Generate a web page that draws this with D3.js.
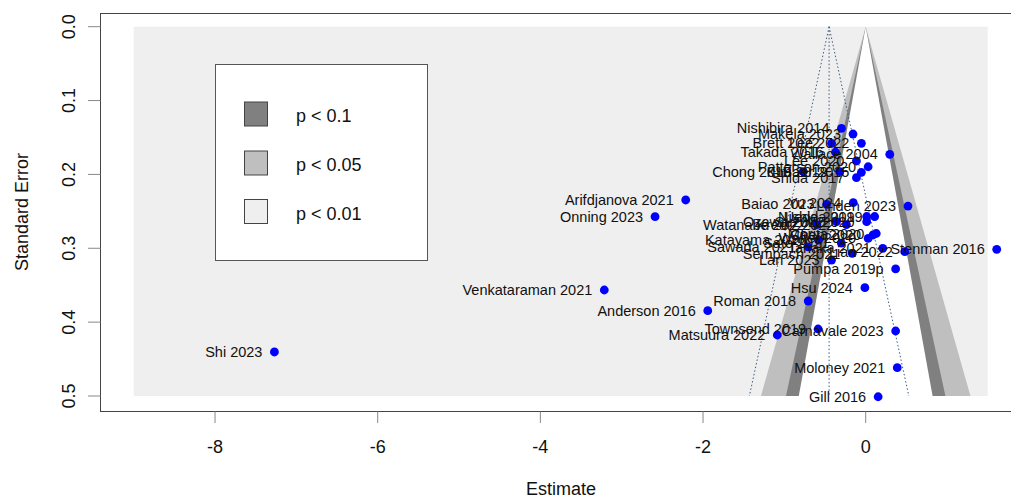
<!DOCTYPE html>
<html><head><meta charset="utf-8">
<script src="https://cdn.jsdelivr.net/npm/d3@7"></script>
<style>
html,body{margin:0;padding:0;background:#fff;}
svg text{font-family:"Liberation Sans",Arial,sans-serif;}
</style>
</head><body>
<svg id="chart" width="1011" height="499"></svg>
<script>
// ---- data ----
const studies = [
 "Nishibira 2014","Makela 2023","Brett 2022","Lee 2022","Takada 2016","Wallace 2004",
 "Lee 2020","Patterson 2020","Chong 2019","Kim 2019","Baer 2015","Shida 2017",
 "Arifdjanova 2021","Onning 2023","Baiao 2023","Yu 2024","Linden 2023",
 "Nishida 2019","Ueda 2019","Ozawa 2022","Kreutz 2022","Watanabe 2022","Suzuki 2020",
 "Morita 2020","Chen 2020","Walter 2020","Katayama 2020","Sato 2021","Sawada 2021",
 "Tanaka 2021","Sempach 2021","Lian 2022","Stenman 2016","Lan 2023","Pumpa 2019p",
 "Hsu 2024","Venkataraman 2021","Roman 2018","Anderson 2016","Townsend 2019",
 "Carnavale 2023","Matsuura 2022","Shi 2023","Moloney 2021","Gill 2016"
];
const estimates = [
 -0.298,-0.156,-0.42,-0.053,-0.371,0.296,
 -0.114,0.03,-0.768,-0.319,-0.053,-0.114,
 -2.213,-2.590,-0.48,-0.153,0.52,
 0.11,0.012,-0.36,-0.237,-0.60,0.012,
 0.13,0.09,0.03,-0.58,-0.30,-0.71,
 0.21,-0.165,0.48,1.611,-0.42,0.368,
 -0.01,-3.214,-0.707,-1.942,-0.585,
 0.368,-1.087,-7.27,0.388,0.153
];
const ses = [
 0.1376,0.1453,0.1579,0.1579,0.170,0.1728,
 0.1818,0.1896,0.1963,0.1963,0.1971,0.2044,
 0.2346,0.2572,0.2405,0.2383,0.2428,
 0.257,0.257,0.264,0.268,0.268,0.264,
 0.280,0.282,0.2866,0.289,0.293,0.298,
 0.300,0.307,0.3046,0.3014,0.316,0.328,
 0.3534,0.3565,0.3714,0.3845,0.4093,
 0.412,0.4174,0.4404,0.4617,0.501
];
const xTicks = [-8,-6,-4,-2,0];
const yTicks = [0,0.1,0.2,0.3,0.4,0.5];
const contourZ = [2.576, 1.96, 1.645];
const contourFill = ["#bfbfbf","#808080","#ffffff"];
const legendLabels = ["p < 0.1","p < 0.05","p < 0.01"];
const legendFill = ["#808080","#bfbfbf","#efefef"];
const pooled = -0.45;
const refline = 0;
const seMax = 0.5;

// ---- scales ----
const svg = d3.select("#chart");
const x = d3.scaleLinear().domain([-9,1.5]).range([133.7,987.7]);
const y = d3.scaleLinear().domain([0,0.5]).range([26.7,396]);

// background region
svg.append("rect").attr("x",x(-9)).attr("y",y(0)).attr("width",x(1.5)-x(-9))
  .attr("height",y(0.5)-y(0)).attr("fill","#efefef");

// contour polygons
contourZ.forEach((z,i)=>{
  const pts = [[refline,0],[refline - z*seMax, seMax],[refline + z*seMax, seMax]];
  svg.append("path")
    .attr("d", d3.line().x(d=>x(d[0])).y(d=>y(d[1]))(pts)+"Z")
    .attr("fill",contourFill[i]).attr("stroke","none");
});

// dotted pseudo-CI funnel around pooled estimate
const dotted = {stroke:"#3d5a80","stroke-width":1,"stroke-dasharray":"1.5,2.2",fill:"none"};
function dl(a,b){const p=svg.append("line").attr("x1",x(a[0])).attr("y1",y(a[1])).attr("x2",x(b[0])).attr("y2",y(b[1]));
  Object.entries(dotted).forEach(([k,v])=>p.attr(k,v));}
dl([pooled,0],[pooled,seMax]);
dl([pooled,0],[pooled-1.96*seMax,seMax]);
dl([pooled,0],[pooled+1.96*seMax,seMax]);

// box
svg.append("rect").attr("x",100.5).attr("y",13.5).attr("width",922).attr("height",398)
  .attr("fill","none").attr("stroke","#444").attr("stroke-width",1);

// x axis ticks
const gx = svg.append("g");
xTicks.forEach(t=>{
  gx.append("line").attr("x1",x(t)).attr("x2",x(t)).attr("y1",411.5).attr("y2",423)
    .attr("stroke","#888").attr("stroke-width",1);
  gx.append("text").attr("x",x(t)).attr("y",452.5).attr("text-anchor","middle")
    .attr("font-size",18).attr("fill","#111").text(d3.format("d")(t).replace("−","-"));
});
// y axis ticks
const gy = svg.append("g");
yTicks.forEach(t=>{
  gy.append("line").attr("x1",88).attr("x2",100.5).attr("y1",y(t)).attr("y2",y(t))
    .attr("stroke","#888").attr("stroke-width",1);
  gy.append("text").attr("transform",`translate(75,${y(t)}) rotate(-90)`)
    .attr("text-anchor","middle").attr("font-size",18).attr("fill","#111")
    .text(d3.format(".1f")(t));
});
// axis titles
svg.append("text").attr("x",561).attr("y",495).attr("text-anchor","middle")
  .attr("font-size",18).attr("fill","#111").text("Estimate");
svg.append("text").attr("transform","translate(28,212) rotate(-90)")
  .attr("text-anchor","middle").attr("font-size",18).attr("fill","#111").text("Standard Error");

// legend
svg.append("rect").attr("x",215.5).attr("y",64.5).attr("width",212).attr("height",196)
  .attr("fill","#fff").attr("stroke","#555");
const legY = [102,151,199.5];
const legBase = [121.5,170.5,219.5];
legendLabels.forEach((lab,i)=>{
  svg.append("rect").attr("x",244.5).attr("y",legY[i]).attr("width",23).attr("height",24)
    .attr("fill",legendFill[i]).attr("stroke","#444");
  svg.append("text").attr("x",296).attr("y",legBase[i]).attr("font-size",18)
    .attr("fill","#111").text(lab);
});

// points
const data = studies.map((s,i)=>({s, e:estimates[i], se:ses[i]}));
svg.append("g").selectAll("circle").data(data).join("circle")
  .attr("cx",d=>x(d.e)).attr("cy",d=>y(d.se)).attr("r",4.4).attr("fill","#0000ff");
svg.append("g").selectAll("text").data(data).join("text")
  .attr("x",d=>x(d.e)-12).attr("y",d=>y(d.se)).attr("dy","0.35em")
  .attr("text-anchor","end").attr("font-size",14.5).attr("fill","#111")
  .text(d=>d.s);
</script>
</body></html>
